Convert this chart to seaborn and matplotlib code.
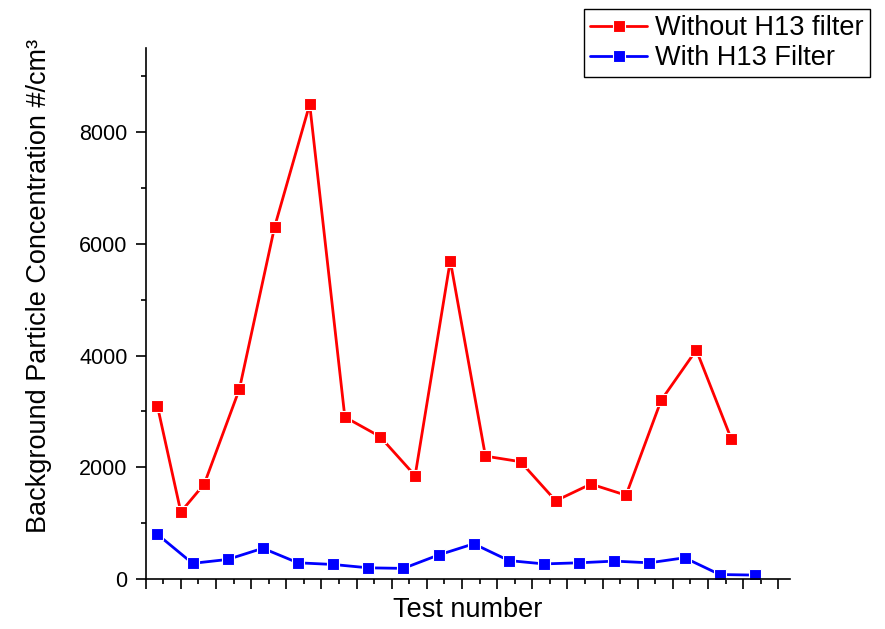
import pandas as pd
import matplotlib
matplotlib.use("Agg")
import matplotlib.pyplot as plt
import seaborn as sns
from matplotlib.ticker import MultipleLocator, NullFormatter

# Datos
red_x = [1, 3, 5, 8, 11, 14, 17, 20, 23, 26, 29, 32, 35, 38, 41, 44, 47, 50]
red_y = [3100, 1200, 1700, 3400, 6300, 8500, 2900, 2550, 1850, 5700,
         2200, 2100, 1400, 1700, 1500, 3200, 4100, 2500]
blue_x = [1, 4, 7, 10, 13, 16, 19, 22, 25, 28, 31, 34, 37, 40, 43, 46, 49, 52]
blue_y = [800, 280, 350, 550, 290, 260, 200, 190, 430, 630,
          330, 270, 290, 320, 290, 380, 80, 70]
labels = ["Without H13 filter", "With H13 Filter"]

df_red = pd.DataFrame({"x": red_x, "y": red_y})
df_blue = pd.DataFrame({"x": blue_x, "y": blue_y})

sns.set_style("ticks")
plt.rcParams["font.family"] = ["Liberation Sans", "DejaVu Sans"]
plt.rcParams["text.color"] = "black"
plt.rcParams["axes.labelcolor"] = "black"
plt.rcParams["xtick.color"] = "black"
plt.rcParams["ytick.color"] = "black"

fig = plt.figure(figsize=(8.85, 6.29), dpi=100)
ax = fig.add_axes([0.1646, 0.0795, 0.7281, 0.8435])

style = dict(marker="s", markersize=8.5, markeredgecolor="white",
             markeredgewidth=0.8, linewidth=2.0)
sns.lineplot(data=df_red, x="x", y="y", color="#ff0000", label=labels[0], ax=ax, **style)
sns.lineplot(data=df_blue, x="x", y="y", color="#0000ff", label=labels[1], ax=ax, **style)

ax.set_xlim(0, 55)
ax.set_ylim(0, 9500)
ax.xaxis.set_major_locator(MultipleLocator(3))
ax.xaxis.set_minor_locator(MultipleLocator(1.5))
ax.xaxis.set_major_formatter(NullFormatter())
ax.yaxis.set_major_locator(MultipleLocator(2000))
ax.yaxis.set_minor_locator(MultipleLocator(1000))

sns.despine(ax=ax)
for s in ["left", "bottom"]:
    ax.spines[s].set_linewidth(1.2)
    ax.spines[s].set_color("black")
ax.tick_params(axis="both", which="major", length=7, width=1.2, color="black",
               labelsize=15.5, pad=6, labelcolor="black")
ax.tick_params(axis="both", which="minor", length=3.5, width=1.2, color="black")

ax.set_xlabel("Test number", fontsize=19.5)
ax.set_ylabel("Background Particle Concentration #/cm³", fontsize=19.5)
ax.yaxis.set_label_coords(-0.145, 0.553)
ax.xaxis.set_label_coords(0.5, -0.033)
ax.xaxis.label.set_va("top")

handles, labs = ax.get_legend_handles_labels()
ax.get_legend().remove()
leg = fig.legend(handles, labs, loc="upper right", bbox_to_anchor=(0.983, 0.985),
                 fontsize=19.5, frameon=True, fancybox=False, framealpha=1,
                 edgecolor="black", handlelength=2.1, borderaxespad=0,
                 borderpad=0.22, labelspacing=0.15, handletextpad=0.3)
leg.get_frame().set_linewidth(1.0)

plt.savefig("out.png", dpi=100)
